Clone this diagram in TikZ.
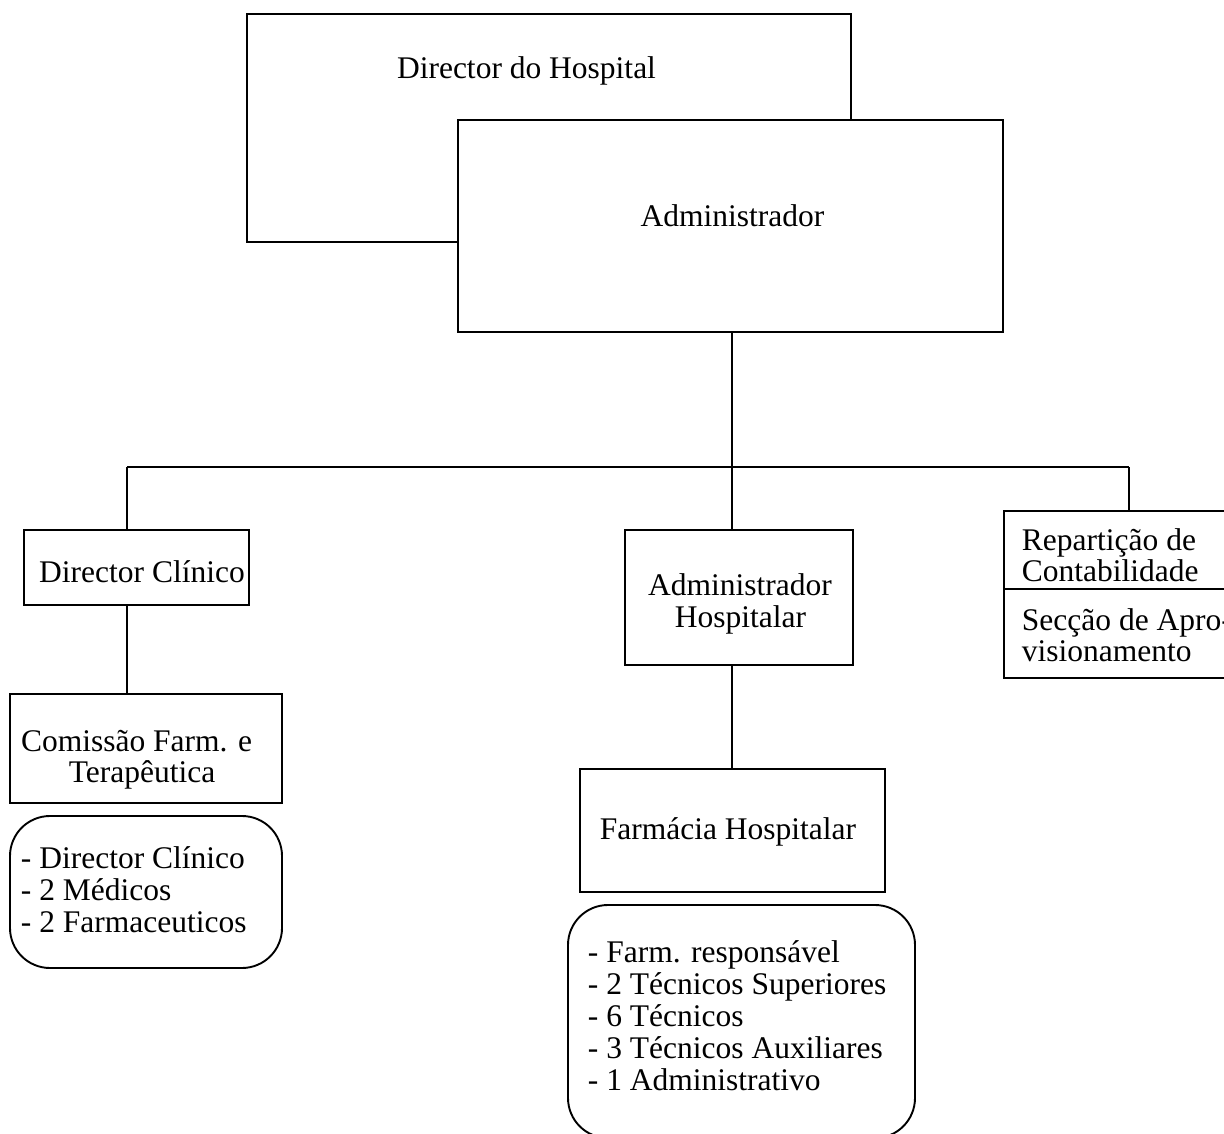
\documentclass[tikz,border=0pt]{standalone}
\usepackage{fontspec}
\setmainfont{Liberation Serif}
\begin{document}
\begin{tikzpicture}[x=1pt,y=-1pt,line width=1.9pt,
  box/.style={draw,rectangle,inner sep=0pt,fill=white},
  rbox/.style={draw,rectangle,rounded corners=40pt,inner sep=0pt,fill=white},
  txt/.style={font=\fontsize{31.5}{32}\selectfont,inner sep=0pt,anchor=base},
  ltxt/.style={font=\fontsize{31.5}{32}\selectfont,inner sep=0pt,anchor=base west}]
\useasboundingbox (0,0) rectangle (1224,1134);
\clip (0,0) rectangle (1224,1134);
% top boxes
\node[box,minimum width=604pt,minimum height=228pt] (dh) at (549,128) {};
\node[txt] (dht) at (526.5,79) {Director do Hospital};
\node[box,minimum width=545pt,minimum height=212pt] (adm) at (730.5,226) {};
\node[txt] (admt) at (732.5,227) {Administrador};
% bus
\coordinate (busL) at (127,467);
\coordinate (busM) at (732,467);
\coordinate (busR) at (1129,467);
\draw (adm.south -| busM) -- (busM);
\draw (busL) -- (busR);
% second level
\node[box,minimum width=225pt,minimum height=75pt] (dc) at (136.5,567.5) {};
\node[txt] (dct) at (142,582) {Director Clínico};
\node[box,minimum width=228pt,minimum height=135pt] (ah) at (739,597.5) {};
\node[txt] (aht1) at (740,595) {Administrador};
\node[txt] (aht2) at (740.5,627) {Hospitalar};
\node[box,minimum width=256pt,minimum height=78pt] (rc) at (1132,550) {};
\node[box,minimum width=256pt,minimum height=89pt] (sa) at (1132,633.5) {};
\node[ltxt] (rct1) at (1021,550) {Repartição de};
\node[ltxt] (rct2) at (1021,581) {Contabilidade};
\node[ltxt] (sat1) at (1021,630) {Secção de Apro-};
\node[ltxt] (sat2) at (1021,661) {visionamento};
\draw (busL) -- (busL |- dc.north);
\draw (busM) -- (busM |- ah.north);
\draw (busR) -- (busR |- rc.north);
% left column
\node[box,minimum width=272pt,minimum height=109pt] (cf) at (146,748.5) {};
\node[txt] (cft1) at (136.5,751) {Comissão Farm. e};
\node[txt] (cft2) at (142,782) {Terapêutica};
\draw (dc.south -| busL) -- (cf.north -| busL);
\node[rbox,minimum width=272pt,minimum height=152pt] (cl) at (146,892) {};
\node[ltxt] (cl1) at (20,868) {- Director Clínico};
\node[ltxt] (cl2) at (20,900) {- 2 Médicos};
\node[ltxt] (cl3) at (20,932) {- 2 Farmaceuticos};
% middle column
\node[box,minimum width=305pt,minimum height=123pt] (fh) at (732.5,830.5) {};
\node[txt] (fht) at (728,839) {Farmácia Hospitalar};
\draw (ah.south -| busM) -- (fh.north -| busM);
\node[rbox,minimum width=347pt,minimum height=233pt] (fl) at (741.5,1021.5) {};
\node[ltxt] (fl1) at (587,962) {- Farm. responsável};
\node[ltxt] (fl2) at (587,994) {- 2 Técnicos Superiores};
\node[ltxt] (fl3) at (587,1026) {- 6 Técnicos};
\node[ltxt] (fl4) at (587,1058) {- 3 Técnicos Auxiliares};
\node[ltxt] (fl5) at (587,1090) {- 1 Administrativo};
\end{tikzpicture}
\end{document}
